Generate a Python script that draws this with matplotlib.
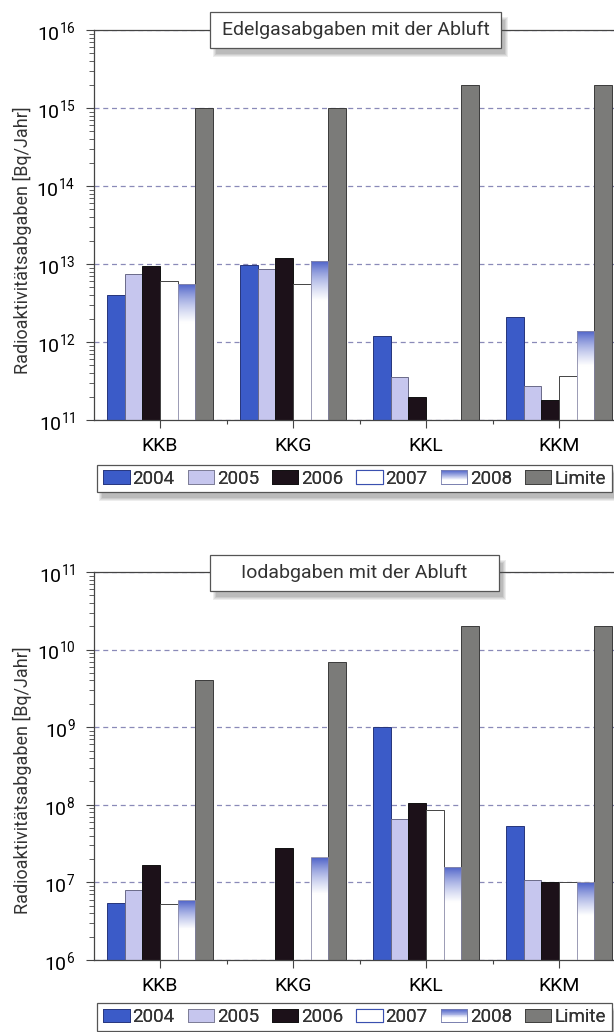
import numpy as np
import matplotlib.pyplot as plt
from matplotlib.patches import Rectangle, Patch
from matplotlib.legend_handler import HandlerBase
from matplotlib.ticker import FixedLocator, LogLocator, NullFormatter

plt.rcParams['font.family'] = ['Roboto', 'DejaVu Sans']
plt.rcParams['mathtext.default'] = 'regular'
plt.rcParams['text.color'] = '#333333'

stations = ['KKB', 'KKG', 'KKL', 'KKM']
years = ['2004', '2005', '2006', '2007', '2008']
nan = np.nan

# Edelgasabgaben [Bq/Jahr], one row per year
edel = [
    [4.0e12, 9.7e12, 1.2e12, 2.1e12],
    [7.4e12, 8.7e12, 3.6e11, 2.7e11],
    [9.5e12, 1.2e13, 2.0e11, 1.8e11],
    [6.0e12, 5.6e12, nan, 3.7e11],
    [5.6e12, 1.1e13, nan, 1.4e12],
]
edel_limit = [1e15, 1e15, 2e15, 2e15]

# Iodabgaben [Bq/Jahr]
iod = [
    [5.5e6, nan, 1.0e9, 5.4e7],
    [8.1e6, nan, 6.6e7, 1.08e7],
    [1.7e7, 2.8e7, 1.07e8, 1.0e7],
    [5.3e6, nan, 8.6e7, 1.0e7],
    [5.9e6, 2.1e7, 1.6e7, 1.0e7],
]
iod_limit = [4e9, 7e9, 2e10, 2e10]

W, H = 614, 1032
col_fill = ['#3b5bc8', '#c6c6ee', '#1c1119', '#ffffff']
col_edge = ['#26357a', '#6a6a88', '#111111', '#444444']
col_limit = '#7b7b79'
blue_top = np.array([0.29, 0.37, 0.78])


def grad_color(f):
    t = np.clip((f - 0.3) / 0.7, 0, 1) ** 0.9
    return tuple(np.array([1.0, 1.0, 1.0]) * (1 - t) + blue_top * t)


class GradientHandler(HandlerBase):
    def create_artists(self, legend, orig_handle, xdescent, ydescent,
                       width, height, fontsize, trans):
        arts = []
        n = 14
        for k in range(n):
            arts.append(Rectangle((-xdescent, -ydescent + height * k / n), width,
                                  height / n * 1.05, facecolor=grad_color((k + 0.5) / n),
                                  edgecolor='none', transform=trans))
        arts.append(Rectangle((-xdescent, -ydescent), width, height, facecolor='none',
                              edgecolor='#7a80b0', lw=0.6, transform=trans))
        return arts


def px_rect(x0, y0, x1, y1, **kw):
    return Rectangle((x0 / W, 1 - y1 / H), (x1 - x0) / W, (y1 - y0) / H,
                     transform=fig.transFigure, **kw)


def shadow(x0, y0, x1, y1, dx=4, dy=6):
    for k, a in enumerate([0.10, 0.10, 0.12, 0.14]):
        g = 3 - k
        fig.patches.append(px_rect(x0 + dx - g + 2, y0 + dy - g + 2, x1 + dx + g, y1 + dy + g,
                                   facecolor='#555555', edgecolor='none', alpha=a, zorder=4))


def panel(ax, vals, limits, ylo, yhi):
    x = np.arange(len(stations))
    w = 0.8 / 6
    for i in range(len(years)):
        pos = x - 0.4 + w * i
        for xp, v in zip(pos, vals[i]):
            if np.isnan(v):
                continue
            if i < 4:
                ax.bar(xp, v - ylo, w, bottom=ylo, align='edge', color=col_fill[i],
                       edgecolor=col_edge[i], lw=0.7, zorder=2)
            else:
                b = ax.bar(xp, v - ylo, w, bottom=ylo, align='edge', facecolor='none',
                           edgecolor='#8a8aa8', lw=0.6, zorder=3)[0]
                g = np.array([grad_color(f) for f in np.linspace(0, 1, 64)])[:, None, :]
                im = ax.imshow(g, origin='lower', extent=(xp, xp + w, ylo, v),
                               aspect='auto', interpolation='bilinear', zorder=2)
                im.set_clip_path(b)
    ax.bar(x - 0.4 + 5 * w, np.array(limits) - ylo, w, bottom=ylo, align='edge',
           color=col_limit, edgecolor='#3a3a3a', lw=0.7, zorder=2)

    ax.set_yscale('log')
    ax.set_ylim(ylo, yhi)
    ax.set_xlim(-0.5, (W - 93.5) / 133 - 0.5)
    ax.set_xticks(x)
    ax.set_xticklabels(stations, fontsize=14)
    ax.xaxis.set_minor_locator(FixedLocator([0.5, 1.5, 2.5]))
    ax.tick_params(axis='x', which='major', length=6, width=0.8, pad=6, color='#444')
    ax.tick_params(axis='x', which='minor', length=3, width=0.8, color='#444')
    ax.yaxis.set_minor_locator(LogLocator(base=10, subs=np.arange(2, 10), numticks=20))
    ax.yaxis.set_minor_formatter(NullFormatter())
    ax.tick_params(axis='y', which='major', length=6, width=0.8, pad=7,
                   labelsize=14, color='#444')
    ax.tick_params(axis='y', which='minor', length=3.5, width=0.6, color='#444')
    ax.spines['right'].set_visible(False)
    for s in ['left', 'bottom', 'top']:
        ax.spines[s].set_color('#444444')
        ax.spines[s].set_linewidth(0.9)
    ax.set_axisbelow(True)
    ax.yaxis.grid(True, which='major', color='#8a8ab8', ls=(0, (4, 3)), lw=0.9)


def title_box(text, x0, y0, x1, y1):
    shadow(x0, y0, x1, y1)
    fig.patches.append(px_rect(x0, y0, x1, y1, facecolor='white', edgecolor='#555555',
                               lw=0.9, zorder=6))
    fig.text((x0 + x1) / 2 / W, 1 - (y0 + y1) / 2 / H, text, ha='center', va='center',
             fontsize=14, zorder=7)


fig = plt.figure(figsize=(W / 100, H / 100), dpi=100)
ax1 = fig.add_axes([93.5 / W, 1 - 420 / H, 1 - 93.5 / W, 390 / H])
ax2 = fig.add_axes([93.5 / W, 1 - 960 / H, 1 - 93.5 / W, 388 / H])
panel(ax1, edel, edel_limit, 1e11, 1e16)
panel(ax2, iod, iod_limit, 1e6, 1e11)

ylabel = 'Radioaktivitätsabgaben [Bq/Jahr]'
fig.text(22 / W, 1 - 240 / H, ylabel, rotation=90, ha='center', va='center', fontsize=13)
fig.text(22 / W, 1 - 780 / H, ylabel, rotation=90, ha='center', va='center', fontsize=13)

title_box('Edelgasabgaben mit der Abluft', 210, 12, 501, 48)
title_box('Iodabgaben mit der Abluft', 210, 555, 499, 591)

handles = [Patch(facecolor=col_fill[0], edgecolor=col_edge[0], lw=0.6),
           Patch(facecolor=col_fill[1], edgecolor='#777790', lw=0.6),
           Patch(facecolor=col_fill[2], edgecolor=col_edge[2], lw=0.6),
           Patch(facecolor='white', edgecolor='#3a50b0', lw=0.8),
           'grad',
           Patch(facecolor=col_limit, edgecolor='#3a3a3a', lw=0.6)]
labels = years + ['Limite']
for top, bot in [(465, 492), (1003, 1031)]:
    x0, x1 = 97, 612
    shadow(x0, top, x1, bot, dx=3, dy=6)
    fig.patches.append(px_rect(x0, top, x1, bot, facecolor='white', edgecolor='#555555',
                               lw=0.9, zorder=5))
    leg = fig.legend(handles, labels, handler_map={str: GradientHandler()},
                     loc='center', ncol=6,
                     bbox_to_anchor=((x0 + x1) / 2 / W, 1 - (top + bot) / 2 / H),
                     fontsize=13.5, handlelength=1.4, handleheight=0.7, handletextpad=0.15,
                     columnspacing=0.7, borderpad=0, borderaxespad=0, frameon=False)
    leg.set_zorder(6)
    fig.add_artist(leg)

fig.savefig('out.png', dpi=100)
